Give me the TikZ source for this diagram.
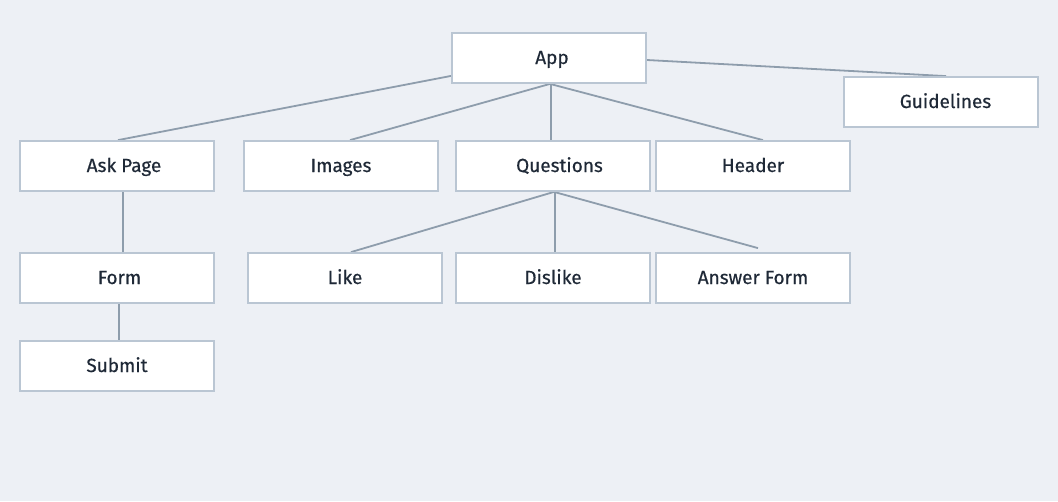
\documentclass[tikz,border=0pt]{standalone}
\usepackage{fontspec}
\newfontfamily\lblfont{Fira Sans}[FakeBold=0.4]
\usetikzlibrary{calc}
\pgfdeclarelayer{back}
\pgfdeclarelayer{bgl}
\pgfsetlayers{back,bgl,main}
\definecolor{bg}{HTML}{EDF0F5}
\definecolor{boxline}{HTML}{BAC6D3}
\definecolor{conn}{HTML}{8E9DAC}
\definecolor{txt}{HTML}{1F2937}
\newcommand{\nudge}[1]{\hspace*{#1}}
\begin{document}
\begin{tikzpicture}[x=1pt,y=-1pt,
  box/.style={draw=boxline,line width=1.8pt,fill=white,minimum width=194pt,minimum height=50pt,inner sep=0pt,text height=13pt,text depth=1pt,text=txt,font=\lblfont\fontsize{19}{21}\selectfont},
  link/.style={draw=conn,line width=1.8pt}]
\begin{pgfonlayer}{back}
\fill[bg] (0,0) rectangle (1058,501);
\end{pgfonlayer}
\useasboundingbox (0,0) rectangle (1058,501);
\node[box] (app) at (549,58) {\nudge{6pt}App};
\node[box] (guide) at (941,102) {\nudge{9pt}Guidelines};
\node[box] (ask) at (117,166) {\nudge{14pt}Ask Page};
\node[box] (img) at (341,166) {Images};
\node[box] (q) at (553,166) {\nudge{13pt}Questions};
\node[box] (hdr) at (753,166) {Header};
\node[box] (form) at (117,278) {\nudge{5pt}Form};
\node[box] (like) at (345,278) {Like};
\node[box] (dis) at (553,278) {Dislike};
\node[box] (ans) at (753,278) {Answer Form};
\node[box] (sub) at (117,366) {Submit};
\begin{pgfonlayer}{bgl}
\draw[link] ($(app.south west)+(0,-8)$) -- ($(ask.north)+(1,0)$);
\draw[link] ($(app.south)+(1,0)$) -- ($(img.north)+(9,0)$);
\draw[link] ($(app.south)+(2,0)$) -- ($(q.north)+(-2,0)$);
\draw[link] ($(app.south)+(1,0)$) -- ($(hdr.north)+(10,0)$);
\draw[link] ($(app.east)+(0,2)$) -- ($(guide.north)+(5,0)$);
\draw[link] ($(ask.south)+(6,0)$) -- ($(form.north)+(6,0)$);
\draw[link] ($(form.south)+(2,0)$) -- ($(sub.north)+(2,0)$);
\draw[link] ($(q.south)+(1,0)$) -- ($(like.north)+(6,0)$);
\draw[link] ($(q.south)+(2,0)$) -- ($(dis.north)+(2,0)$);
\draw[link] ($(q.south)+(1,0)$) -- ($(ans.north)+(5,-4)$);
\end{pgfonlayer}
\end{tikzpicture}
\end{document}
